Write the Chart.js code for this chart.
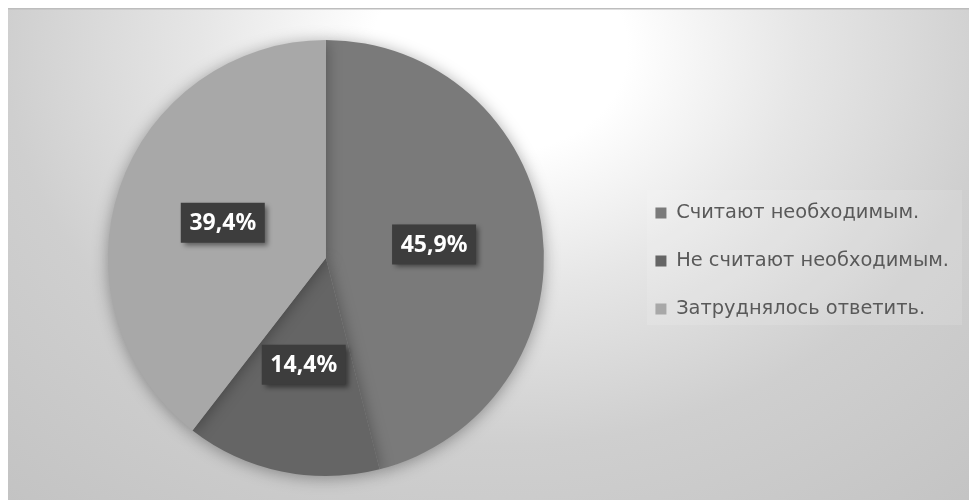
<!DOCTYPE html>
<html>
<head>
<meta charset="utf-8">
<script src="https://cdn.jsdelivr.net/npm/chart.js@4.4.1/dist/chart.umd.min.js"></script>
<style>
html,body{margin:0;padding:0;background:#fff;}
#wrap{width:969px;height:500px;position:relative;}
</style>
</head>
<body>
<div id="wrap"><canvas id="c" width="969" height="500"></canvas></div>
<script>
const categories = ['Считают необходимым.', 'Не считают необходимым.', 'Затруднялось ответить.'];
const shares = [45.9, 14.4, 39.4];
const sliceColors = ['#7a7a7a', '#656565', '#a8a8a8'];

const bgPlugin = {
  id: 'bg',
  afterLayout(chart) {
    if (chart.legend) { chart.legend.top += 3; chart.legend.bottom += 3; }
  },
  beforeDraw(chart) {
    const ctx = chart.ctx;
    ctx.save();
    ctx.fillStyle = '#ffffff';
    ctx.fillRect(0, 0, chart.width, chart.height);
    ctx.beginPath();
    ctx.rect(8, 8, chart.width - 8, chart.height - 8);
    ctx.clip();
    ctx.translate(500, 50);
    ctx.scale(1.25, 1);
    const g = ctx.createRadialGradient(0, 0, 0, 0, 0, 600);
    g.addColorStop(0, '#ffffff');
    g.addColorStop(0.17, '#ffffff');
    g.addColorStop(0.4, '#e6e6e6');
    g.addColorStop(0.66, '#cfcfcf');
    g.addColorStop(1, '#c3c3c3');
    ctx.fillStyle = g;
    ctx.fillRect(-500, -100, 1000, 700);
    ctx.restore();
    ctx.save();
    ctx.fillStyle = '#bdbdbd';
    ctx.fillRect(8, 8, chart.width - 8, 1.5);
    ctx.restore();
    ctx.save();
    ctx.fillStyle = 'rgba(255,255,255,0.12)';
    ctx.fillRect(647, 190, 315, 135);
    ctx.restore();
  }
};

const shadowPlugin = {
  id: 'pieShadow',
  beforeDatasetsDraw(chart) {
    const ctx = chart.ctx;
    ctx.save();
    ctx.shadowColor = 'rgba(0,0,0,0.35)';
    ctx.shadowBlur = 16;
    ctx.shadowOffsetX = 0;
    ctx.shadowOffsetY = 2;
  },
  afterDatasetsDraw(chart) {
    chart.ctx.restore();
  }
};

const labelPlugin = {
  id: 'boxLabels',
  afterDatasetsDraw(chart) {
    const ctx = chart.ctx;
    const meta = chart.getDatasetMeta(0);
    const vals = chart.data.datasets[0].data;
    meta.data.forEach((arc, i) => {
      const p = arc.tooltipPosition();
      const txt = vals[i].toFixed(1).replace('.', ',') + '%';
      const w = 84, h = 40;
      ctx.save();
      ctx.shadowColor = 'rgba(0,0,0,0.45)';
      ctx.shadowBlur = 5;
      ctx.shadowOffsetX = 3;
      ctx.shadowOffsetY = 3;
      ctx.fillStyle = '#3d3d3d';
      ctx.fillRect(p.x - w / 2, p.y - h / 2, w, h);
      ctx.restore();
      ctx.save();
      ctx.fillStyle = '#ffffff';
      ctx.font = 'bold 23px "Noto Sans", sans-serif';
      ctx.textAlign = 'center';
      ctx.textBaseline = 'middle';
      ctx.fillText(txt, p.x, p.y + 1);
      ctx.restore();
    });
  }
};

new Chart(document.getElementById('c'), {
  type: 'pie',
  data: {
    labels: categories,
    datasets: [{
      data: shares,
      backgroundColor: sliceColors,
      borderWidth: 0
    }]
  },
  options: {
    responsive: false,
    animation: false,
    layout: { padding: { top: 40, bottom: 24, left: 25, right: 10 } },
    plugins: {
      tooltip: { enabled: false },
      legend: {
        position: 'right',
        labels: {
          boxWidth: 11,
          boxHeight: 11,
          padding: 28.6,
          color: '#595959',
          font: { family: '"DejaVu Sans", sans-serif', size: 19.4 }
        }
      }
    }
  },
  plugins: [bgPlugin, shadowPlugin, labelPlugin]
});
</script>
</body>
</html>
